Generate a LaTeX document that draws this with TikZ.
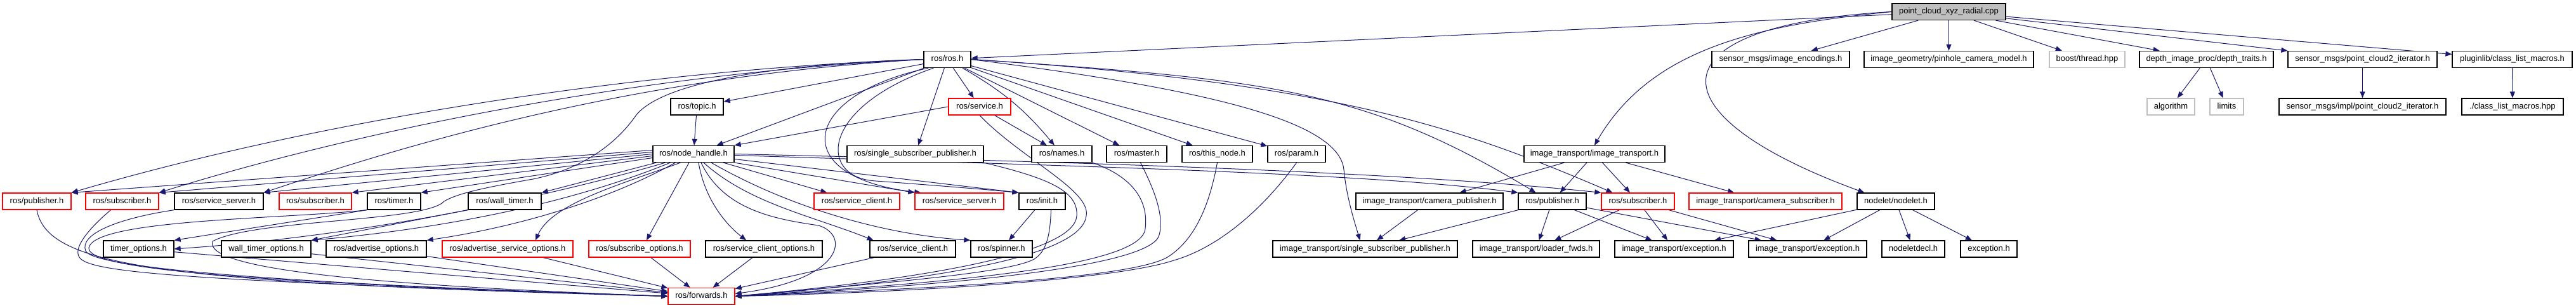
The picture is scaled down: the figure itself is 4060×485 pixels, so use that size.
\documentclass[tikz,border=0pt]{standalone}
\usepackage{fontspec}
\setmainfont{Liberation Sans}
\usetikzlibrary{arrows.meta}
\definecolor{edgec}{HTML}{191970}
\definecolor{grayb}{HTML}{BFBFBF}
\pgfdeclarelayer{background}
\pgfsetlayers{background,main}
\newcommand\mknode[6]{\node[#1, minimum width={(#4-#3)*0.5pt}] (#2) at ({(#3+#4)/2},#5) {#6};}
\begin{document}
\begin{tikzpicture}[x=0.5pt,y=-0.5pt,
 box/.style={draw=black, fill=white, line width=0.65pt, minimum height=13pt, inner xsep=1pt, inner ysep=0pt, font=\fontsize{6.5pt}{7pt}\selectfont, text height=4.7pt, text depth=1.4pt},
 rbox/.style={box, draw=red},
 gbox/.style={box, draw=grayb},
 mbox/.style={box, fill=grayb},
 e/.style={draw=edgec, line width=0.5pt, -{Triangle[length=5pt,width=4pt]}},
]
\useasboundingbox (0,0) rectangle (4060,485);
% row 0,1,2
\mknode{mbox}{main}{2982}{3161}{18.5}{point\_cloud\_xyz\_radial.cpp}
\mknode{box}{ros}{1456}{1530}{93.5}{ros/ros.h}
\mknode{box}{enc}{2698}{2915}{93.5}{sensor\_msgs/image\_encodings.h}
\mknode{box}{pin}{2938}{3205}{93.5}{image\_geometry/pinhole\_camera\_model.h}
\mknode{gbox}{thr}{3230}{3349}{93.5}{boost/thread.hpp}
\mknode{box}{dtr}{3372}{3583}{93.5}{depth\_image\_proc/depth\_traits.h}
\mknode{box}{pci}{3606}{3841}{93.5}{sensor\_msgs/point\_cloud2\_iterator.h}
\mknode{box}{clm}{3865}{4054}{93.5}{pluginlib/class\_list\_macros.h}
\mknode{box}{topic}{1057}{1140}{168}{ros/topic.h}
\mknode{rbox}{svc}{1495}{1593}{168}{ros/service.h}
\mknode{gbox}{alg}{3384}{3459}{168}{algorithm}
\mknode{gbox}{lim}{3483}{3536}{168}{limits}
\mknode{box}{pcii}{3592}{3855}{168}{sensor\_msgs/impl/point\_cloud2\_iterator.h}
\mknode{box}{clmh}{3880}{4040}{168}{./class\_list\_macros.hpp}
% row 3
\mknode{box}{nh}{1029}{1157}{242.5}{ros/node\_handle.h}
\mknode{box}{ssp}{1335}{1550}{242.5}{ros/single\_subscriber\_publisher.h}
\mknode{box}{names}{1626}{1721}{242.5}{ros/names.h}
\mknode{box}{master}{1744}{1839}{242.5}{ros/master.h}
\mknode{box}{thisnode}{1863}{1974}{242.5}{ros/this\_node.h}
\mknode{box}{param}{1998}{2089}{242.5}{ros/param.h}
\mknode{box}{itr}{2402}{2624}{242.5}{image\_transport/image\_transport.h}
% row 4
\mknode{rbox}{pub1}{4}{112}{317}{ros/publisher.h}
\mknode{rbox}{sub1}{135}{250}{317}{ros/subscriber.h}
\mknode{box}{ss1}{275}{415}{317}{ros/service\_server.h}
\mknode{rbox}{sub2}{440}{554}{317}{ros/subscriber.h}
\mknode{box}{timer}{579}{663}{317}{ros/timer.h}
\mknode{box}{wtimer}{738}{853}{317}{ros/wall\_timer.h}
\mknode{rbox}{sc1}{1283}{1418}{317}{ros/service\_client.h}
\mknode{rbox}{ss2}{1442}{1582}{317}{ros/service\_server.h}
\mknode{box}{init}{1606}{1679}{317}{ros/init.h}
\mknode{box}{cpub}{2137}{2369}{317}{image\_transport/camera\_publisher.h}
\mknode{box}{pub2}{2393}{2500}{317}{ros/publisher.h}
\mknode{rbox}{sub3}{2524}{2639}{317}{ros/subscriber.h}
\mknode{rbox}{csub}{2662}{2903}{317}{image\_transport/camera\_subscriber.h}
\mknode{box}{nodelet}{2927}{3049}{317}{nodelet/nodelet.h}
% row 5
\mknode{box}{topt}{163}{274}{392}{timer\_options.h}
\mknode{box}{wtopt}{349}{490}{392}{wall\_timer\_options.h}
\mknode{box}{aopt}{514}{672}{392}{ros/advertise\_options.h}
\mknode{rbox}{asopt}{697}{903}{392}{ros/advertise\_service\_options.h}
\mknode{rbox}{subopt}{928}{1088}{392}{ros/subscribe\_options.h}
\mknode{box}{scopt}{1112}{1296}{392}{ros/service\_client\_options.h}
\mknode{box}{sc2}{1371}{1506}{392}{ros/service\_client.h}
\mknode{box}{spin}{1530}{1627}{392}{ros/spinner.h}
\mknode{box}{itssp}{2006}{2297}{392}{image\_transport/single\_subscriber\_publisher.h}
\mknode{box}{lfw}{2321}{2521}{392}{image\_transport/loader\_fwds.h}
\mknode{box}{exc1}{2545}{2732}{392}{image\_transport/exception.h}
\mknode{box}{exc2}{2756}{2942}{392}{image\_transport/exception.h}
\mknode{box}{ndecl}{2966}{3065}{392}{nodeletdecl.h}
\mknode{box}{exc}{3090}{3179}{392}{exception.h}
% row 6
\mknode{rbox}{fwd}{1053}{1158}{466.5}{ros/forwards.h}

\begin{pgfonlayer}{background}
% main file
\draw[e] (main) -- (ros);
\draw[e] (main.west) .. controls (2760,40) and (2600,80) .. (itr.north);
\draw[e] (main.west) .. controls (2600,40) and (2600,180) .. ([xshift=6pt]nodelet.north west);
\draw[e] (main) -- (enc);
\draw[e] (main) -- (pin);
\draw[e] (main) -- (thr);
\draw[e] (main) -- (dtr);
\draw[e] (main) -- (pci);
\draw[e] (main) -- (clm);
\draw[e] (dtr) -- (alg);
\draw[e] (dtr) -- (lim);
\draw[e] (pci) -- (pcii);
\draw[e] (clm) -- (clmh);
% ros.h
\draw[e] (ros.west) .. controls (1000,110) and (500,190) .. (pub1.north east);
\draw[e] (ros.west) .. controls (1000,115) and (550,210) .. (sub1.north east);
\draw[e] (ros.west) .. controls (1000,120) and (650,225) .. (ss1.north east);
\draw[e] (ros.west) .. controls (1250,100) and (1040,125) .. (1000,185) .. controls (960,240) and (900,270) .. (840,282) .. controls (760,296) and (720,305) .. (700,317) .. controls (670,350) and (400,345) .. (335,380) .. controls (320,425) and (600,450) .. (fwd.west);
\draw[e] (ros) -- (topic);
\draw[e] (ros) -- (nh);
\draw[e] (ros) -- (svc);
\draw[e] (ros) -- (ssp);
\draw[e] (ros) to[bend left=10] (names);
\draw[e] (ros) -- (master);
\draw[e] (ros) -- (thisnode);
\draw[e] (ros) -- (param);
\draw[e] ([xshift=4pt]ros.south west) .. controls (1260,150) and (1240,280) .. ([xshift=5pt]ss2.north west);
\draw[e] ([xshift=8pt]ros.south west) .. controls (1290,170) and (1290,280) .. (1380,285) .. controls (1450,290) and (1550,298) .. (init.north west);
\draw[e] (ros.east) .. controls (2000,125) and (2150,140) .. ([xshift=-13pt]pub2.north);
\draw[e] (ros.east) .. controls (2100,130) and (2300,200) .. ([xshift=-20pt]sub3.north);
\draw[e] (ros.east) .. controls (1900,140) and (2110,190) .. (2118,267) .. controls (2122,310) and (2135,350) .. ([xshift=-4pt]itssp.north);
% topic, service
\draw[e] (topic) -- (nh);
\draw[e] (svc.west) -- (nh.north east);
\draw[e] (svc) -- (names);
\draw[e] (svc.south) .. controls (1610,250) and (1720,300) .. (1712,340) .. controls (1705,400) and (1500,440) .. (fwd.east);
% node_handle
\draw[e] ([yshift=3pt]nh.west) -- (pub1.north east);
\draw[e] ([yshift=1.5pt]nh.west) -- (sub1.north east);
\draw[e] (nh.west) -- (ss1.north east);
\draw[e] ([yshift=-1.5pt]nh.west) -- (sub2.north east);
\draw[e] ([yshift=-3pt]nh.west) -- (timer.north east);
\draw[e] ([xshift=3pt]nh.south west) -- (wtimer.north east);
\draw[e] ([xshift=10pt]nh.south west) .. controls (900,300) and (600,370) .. (topt.east);
\draw[e] ([xshift=14pt]nh.south west) .. controls (900,320) and (700,360) .. (wtopt.north east);
\draw[e] ([xshift=18pt]nh.south west) .. controls (950,320) and (800,360) .. (aopt.north east);
\draw[e] ([xshift=22pt]nh.south west) .. controls (980,290) and (870,320) .. ([xshift=22pt]asopt.north);
\draw[e] ([xshift=-3.5pt]nh.south) -- ([xshift=5.5pt]subopt.north);
\draw[e] ([xshift=4pt]nh.south) .. controls (1110,310) and (1140,350) .. ([xshift=-14pt]scopt.north);
\draw[e] ([xshift=6pt]nh.south) .. controls (1140,330) and (1220,345) .. (1290,355) .. controls (1340,370) and (1330,440) .. ([yshift=2pt]fwd.east);
\draw[e] ([xshift=8pt]nh.south) .. controls (1180,320) and (1280,340) .. ([xshift=-31pt]sc2.north);
\draw[e] ([xshift=14pt]nh.south) .. controls (1250,330) and (1400,370) .. (spin.north west);
\draw[e] (nh) -- (sc1);
\draw[e] (nh.south east) -- (ss2.north west);
\draw[e] ([yshift=-4pt]nh.east) -- (init.north west);
\draw[e] ([yshift=-1pt]nh.east) .. controls (1700,262) and (2150,272) .. (pub2.north west);
\draw[e] (nh.east) .. controls (1700,255) and (2200,270) .. (sub3.north west);
% row 4 to row 5/6 (left part)
\draw[e] (pub1.south) .. controls (75,420) and (250,445) .. (fwd.west);
\draw[e] ([xshift=-9pt]sub1.south) .. controls (140,360) and (115,390) .. (125,405) .. controls (140,430) and (300,442) .. (fwd.west);
\draw[e] (ss1.south west) .. controls (180,345) and (125,370) .. (135,395) .. controls (145,420) and (400,445) .. (fwd.west);
\draw[e] (timer.south west) .. controls (450,345) and (150,345) .. (140,390) .. controls (135,425) and (400,445) .. (fwd.west);
\draw[e] (timer.south west) -- (topt.north east);
\draw[e] (wtimer.south west) -- (wtopt.north east);
\draw[e] (topt) -- (fwd);
\draw[e] (wtopt) -- (fwd);
\draw[e] (aopt) -- (fwd);
\draw[e] (asopt) -- (fwd);
\draw[e] (subopt) -- (fwd);
\draw[e] (scopt) -- (fwd);
\draw[e] (sc2) -- (fwd);
% middle right to forwards
\draw[e] (ssp.south east) .. controls (1650,280) and (1700,300) .. (1697,340) .. controls (1693,400) and (1450,440) .. (fwd.east);
\draw[e] (names.south east) .. controls (1790,280) and (1810,320) .. (1805,360) .. controls (1800,420) and (1500,445) .. (fwd.east);
\draw[e] ([xshift=3pt]master.south) .. controls (1820,300) and (1835,340) .. (1827,370) .. controls (1815,420) and (1500,450) .. (fwd.east);
\draw[e] (thisnode.south) .. controls (1905,330) and (1880,380) .. (1840,405) .. controls (1780,440) and (1450,455) .. (fwd.east);
\draw[e] (param.south) .. controls (1990,330) and (1920,390) .. (1850,410) .. controls (1760,440) and (1450,460) .. (fwd.east);
\draw[e] ([xshift=7pt]init.south) .. controls (1655,370) and (1650,395) .. (1630,408) .. controls (1590,430) and (1400,445) .. (fwd.east);
\draw[e] (init) -- (spin);
% image transport
\draw[e] (itr) -- (cpub);
\draw[e] (itr) -- (pub2);
\draw[e] (itr) -- (sub3);
\draw[e] (itr) -- (csub);
\draw[e] (cpub) -- (itssp);
\draw[e] (pub2) -- (itssp);
\draw[e] (pub2) -- (lfw);
\draw[e] (pub2) -- (exc1);
\draw[e] (pub2) -- (exc2);
\draw[e] (sub3) -- (lfw);
\draw[e] (sub3) -- (exc1);
\draw[e] (sub3) -- (exc2);
\draw[e] (nodelet) -- (exc1);
\draw[e] (nodelet) -- (exc2);
\draw[e] (nodelet) -- (ndecl);
\draw[e] (nodelet) -- (exc);
\end{pgfonlayer}
\end{tikzpicture}
\end{document}
